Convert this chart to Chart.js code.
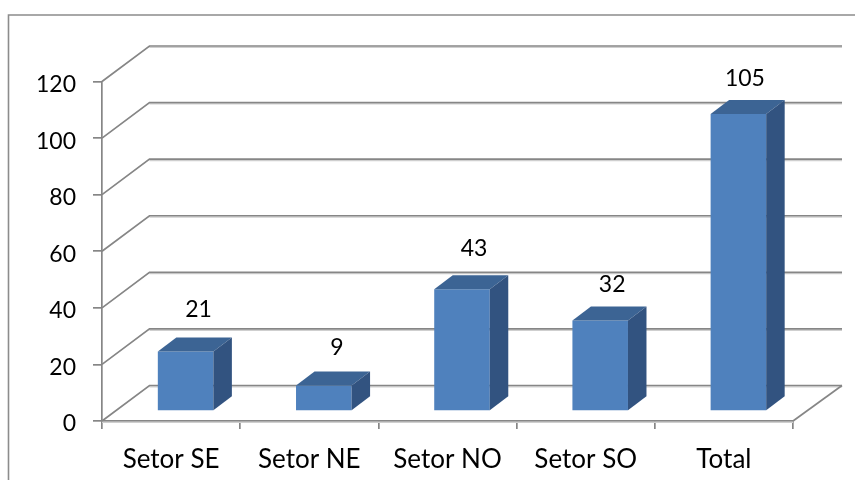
<!DOCTYPE html>
<html><head><meta charset="utf-8">
<style>html,body{margin:0;padding:0;background:#fff}canvas{display:block}</style>
<script src="https://cdn.jsdelivr.net/npm/chart.js@4"></script></head>
<body><canvas id="c" width="855" height="480"></canvas>
<script>
const categories = ["Setor SE","Setor NE","Setor NO","Setor SO","Total"];
const seriesValues = [21,9,43,32,105];
const yTicks = [0,20,40,60,80,100,120];
const labelLift = [29,25,28,23,22];
const labelShift = [13,13,12,12,6.5];

const GRID = "#868686", FONT = "Lato, Carlito, Calibri, sans-serif";
const wall = {dx:47.5, dy:-35.5, overhang:49};
const bar3d = {dx:14.5, dy:-10, depthX:18.5, depthY:-14};

const poly = (ctx, pts, fill) => {
  ctx.beginPath(); pts.forEach((p,i)=> i?ctx.lineTo(p[0],p[1]):ctx.moveTo(p[0],p[1]));
  ctx.closePath(); ctx.fillStyle = fill; ctx.fill();
};
const stroke = (ctx, pts, color, w) => {
  ctx.beginPath(); pts.forEach((p,i)=> i?ctx.lineTo(p[0],p[1]):ctx.moveTo(p[0],p[1]));
  ctx.strokeStyle = color; ctx.lineWidth = w; ctx.stroke();
};
const plugin3d = {
  id:"plugin3d",
  beforeDatasetsDraw(chart){
    const {ctx, chartArea:a, scales:{y}} = chart;
    ctx.save();
    stroke(ctx, [[8.5,480],[8.5,15],[855,15]], "#8c8c8c", 1.6);
    yTicks.forEach(v=>{
      const py = y.getPixelForValue(v);
      const bx = a.left+wall.dx, by = py+wall.dy;
      stroke(ctx, [[bx,by+1.4],[a.right+wall.overhang,by+1.4]], "#cfcfcf", 1.2);
      stroke(ctx, [[a.left,py],[bx,by],[a.right+wall.overhang,by]], GRID, 1.7);
    });
    const p0 = y.getPixelForValue(0);
    stroke(ctx, [[a.right+wall.overhang,p0+wall.dy],[a.right,p0]], GRID, 1.7);
    stroke(ctx, [[a.left,p0+1.4],[a.right,p0+1.4]], "#cfcfcf", 1.2);
    ctx.restore();
  },
  beforeDatasetDraw(chart){
    chart.ctx.save();
    chart.ctx.translate(bar3d.dx, bar3d.dy);
  },
  afterDatasetDraw(chart,args){
    const ctx = chart.ctx;
    const {depthX:dx, depthY:dy} = bar3d;
    args.meta.data.forEach(el=>{
      const l = el.x-el.width/2, r = el.x+el.width/2, t = el.y, b = el.base;
      poly(ctx, [[l,t],[l+dx,t+dy],[r+dx,t+dy],[r,t]], "#3c6494");
      poly(ctx, [[r,t],[r+dx,t+dy],[r+dx,b+dy],[r,b]], "#325380");
    });
    ctx.restore();
    ctx.save();
    ctx.font = "23px "+FONT; ctx.fillStyle="#000"; ctx.textAlign="center"; ctx.textBaseline="middle";
    args.meta.data.forEach((el,i)=>{
      const x = el.x+bar3d.dx+labelShift[i], y = el.y+bar3d.dy+dy-labelLift[i];
      ctx.fillText(String(seriesValues[i]), x, y+1);
    });
    ctx.restore();
  }
};

new Chart(document.getElementById("c"),{
  type:"bar",
  data:{labels:categories,datasets:[{data:seriesValues,backgroundColor:"#4f81bd",borderWidth:0,
    categoryPercentage:1,barPercentage:0.402,clip:false}]},
  options:{
    responsive:false,animation:false,
    layout:{padding:{left:0,top:81.5,right:62,bottom:0}},
    plugins:{legend:{display:false},tooltip:{enabled:false},title:{display:false}},
    scales:{
      x:{afterFit:s=>{s.height=59},
        grid:{drawOnChartArea:false,color:GRID,lineWidth:1.7,tickLength:8,offset:true},
        border:{color:GRID,width:1.7},
        ticks:{color:"#000",font:{family:FONT,size:26},padding:15,maxRotation:0}},
      y:{min:0,max:120,afterFit:s=>{s.width=102},
        afterBuildTicks:s=>{s.ticks=yTicks.map(v=>({value:v}))},
        grid:{drawOnChartArea:false,color:GRID,lineWidth:1.7,tickLength:9},
        border:{color:GRID,width:1.7},
        ticks:{color:"#000",font:{family:FONT,size:23},padding:17,labelOffset:3}}
    }
  },
  plugins:[plugin3d]
});
</script></body></html>
